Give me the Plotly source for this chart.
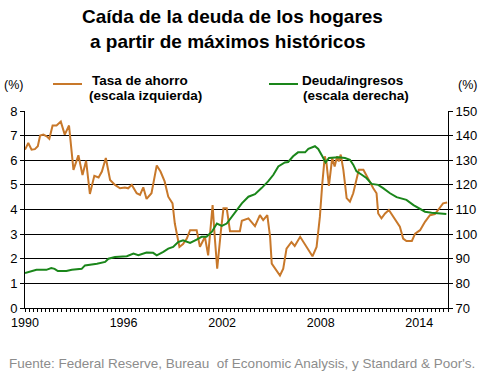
import plotly.graph_objects as go

# Savings rate (left axis, %), x in decimal years
ahorro_x = [1990.0, 1990.2, 1990.4, 1990.6, 1990.78, 1990.92, 1991.12, 1991.32, 1991.48, 1991.68,
            1991.92, 1992.18, 1992.42, 1992.68, 1992.95, 1993.25, 1993.5, 1993.72, 1993.95, 1994.22,
            1994.48, 1994.68, 1994.92, 1995.18, 1995.48, 1995.78, 1996.08, 1996.28, 1996.5, 1996.8,
            1997.0, 1997.2, 1997.4, 1997.7, 1998.02, 1998.25, 1998.5, 1998.72, 1998.98, 1999.12,
            1999.4, 1999.62, 1999.85, 2000.05, 2000.45, 2000.65, 2000.85, 2000.95, 2001.15, 2001.42,
            2001.55, 2001.7, 2001.92, 2002.08, 2002.28, 2002.48, 2003.08, 2003.2, 2003.6, 2004.0,
            2004.3, 2004.5, 2004.75, 2004.92, 2005.02, 2005.25, 2005.52, 2005.72, 2005.92, 2006.22,
            2006.42, 2006.75, 2006.95, 2007.25, 2007.5, 2007.75, 2007.95, 2008.1, 2008.25, 2008.35,
            2008.5, 2008.7, 2008.85, 2009.0, 2009.1, 2009.22, 2009.38, 2009.58, 2009.78, 2009.98,
            2010.2, 2010.32, 2010.6, 2010.8, 2011.0, 2011.2, 2011.4, 2011.5, 2011.7, 2011.92,
            2012.15, 2012.35, 2012.62, 2012.82, 2013.02, 2013.22, 2013.55, 2013.75, 2014.05, 2014.35,
            2014.65, 2014.95, 2015.15, 2015.45, 2015.7]
ahorro_y = [6.43, 6.7, 6.43, 6.45, 6.57, 7.0, 7.04, 6.97, 6.87, 7.41,
            7.41, 7.57, 7.04, 7.41, 5.61, 6.2, 5.4, 5.98, 4.63, 5.37,
            5.3, 5.54, 6.09, 5.2, 5.0, 4.86, 4.89, 4.86, 5.0, 4.66,
            4.59, 4.9, 4.43, 4.66, 5.79, 5.54, 5.14, 4.52, 4.25, 3.43,
            2.48, 2.6, 2.82, 3.16, 3.16, 2.48, 2.75, 2.9, 2.14, 4.18,
            2.89, 1.6, 3.09, 4.05, 4.05, 3.12, 3.12, 3.54, 3.64, 3.32,
            3.77, 3.57, 3.77, 2.89, 1.8, 1.6, 1.32, 1.6, 2.41, 2.68,
            2.52, 2.89, 2.68, 2.34, 2.1, 2.48, 3.7, 5.07, 6.16, 5.9,
            4.96, 6.09, 5.75, 6.16, 5.95, 6.23, 5.61, 4.46, 4.32, 4.66,
            5.27, 5.61, 5.61, 5.34, 5.07, 4.86, 4.66, 3.84, 3.64, 3.84,
            3.98, 3.77, 3.5, 3.3, 2.82, 2.72, 2.72, 3.02, 3.16, 3.5,
            3.77, 3.81, 3.98, 4.25, 4.28]

# Debt / income (right axis, %)
deuda_x = [1990.0, 1990.5, 1990.7, 1991.3, 1991.6, 1991.8, 1992.0, 1992.52, 1992.85, 1993.45,
           1993.65, 1994.38, 1994.58, 1994.88, 1995.08, 1995.48, 1996.2, 1996.6, 1996.9, 1997.4,
           1997.8, 1998.02, 1998.42, 1998.72, 1999.02, 1999.32, 1999.62, 2000.05, 2000.45, 2000.75,
           2001.05, 2001.38, 2001.68, 2001.98, 2002.28, 2002.58, 2002.88, 2003.2, 2003.6, 2004.0,
           2004.4, 2004.8, 2005.12, 2005.42, 2005.82, 2006.02, 2006.32, 2006.62, 2007.05, 2007.25,
           2007.65, 2007.85, 2008.1, 2008.3, 2008.5, 2009.08, 2009.48, 2009.78, 2009.98, 2010.18,
           2010.5, 2010.8, 2011.1, 2011.5, 2011.8, 2012.22, 2012.62, 2012.92, 2013.22, 2013.65,
           2014.05, 2014.35, 2014.75, 2015.15, 2015.65]
deuda_y = [84.2, 85.0, 85.5, 85.5, 86.2, 85.9, 85.0, 85.0, 85.5, 85.9,
           87.3, 88.0, 88.3, 88.7, 90.0, 90.7, 91.0, 92.1, 91.4, 92.5,
           92.4, 91.4, 92.8, 94.1, 94.8, 96.8, 97.5, 96.4, 97.8, 98.9,
           98.9, 101.0, 104.3, 103.3, 104.3, 107.1, 109.8, 112.5, 115.2, 116.2,
           118.7, 121.4, 124.1, 127.5, 129.1, 129.3, 131.6, 133.2, 133.2, 134.6,
           135.7, 134.6, 131.6, 129.1, 130.9, 131.2, 130.9, 130.2, 128.2, 125.5,
           124.1, 122.7, 120.4, 120.0, 118.7, 116.6, 115.0, 114.3, 113.9, 111.8,
           110.1, 109.1, 108.7, 108.4, 108.2]

tick_years = [1990, 1996, 2002, 2008, 2014]
tick_labels = ["1990", "1996", "2002", "2008", "2014"]

FONT = "Arial, 'Liberation Sans', sans-serif"
ORANGE = "#C8782A"
GREEN = "#1A861A"

W, H = 485, 384
L, R, T, B = 25, 37, 111, 76
pw, ph = W - L - R, H - T - B


def px_to_paper(px, py):
    return (px - L) / pw, 1 - (py - T) / ph


fig = go.Figure()
fig.add_trace(go.Scatter(x=ahorro_x, y=ahorro_y, mode="lines",
                         line=dict(color=ORANGE, width=2), name="Tasa de ahorro",
                         showlegend=False))
fig.add_trace(go.Scatter(x=deuda_x, y=deuda_y, mode="lines", yaxis="y2",
                         line=dict(color=GREEN, width=2), name="Deuda/ingresos",
                         showlegend=False))

fig.update_layout(
    width=W, height=H,
    margin=dict(l=L, r=R, t=T, b=B, autoexpand=False),
    paper_bgcolor="white", plot_bgcolor="white",
    font=dict(family=FONT, size=12, color="#000000"),
    xaxis=dict(range=[1990, 2015.75], tickvals=tick_years, ticktext=tick_labels,
               showgrid=False, zeroline=False, showline=True, linecolor="black", linewidth=1,
               ticks="outside", ticklen=3, tickcolor="black", automargin=False,
               minor=dict(dtick=0.25, tick0=1990, ticks="outside", ticklen=3, tickcolor="black"),
               tickfont=dict(size=12.5)),
    yaxis=dict(range=[0, 8], dtick=1, showgrid=True, gridcolor="black", gridwidth=1,
               zeroline=False, showline=True, linecolor="black", linewidth=1, automargin=False,
               ticks="outside", ticklen=4, tickcolor="black", tickfont=dict(size=13)),
    yaxis2=dict(range=[70, 150], dtick=10, overlaying="y", side="right", showgrid=False,
                zeroline=False, showline=True, linecolor="black", linewidth=1, automargin=False,
                ticks="outside", ticklen=4, tickcolor="black", tickfont=dict(size=13)),
)

anns = [
    ("<b>Caída de la deuda de los hogares</b>", 232, 16, 19, "#000000"),
    ("<b>a partir de máximos históricos</b>", 228, 41, 19, "#000000"),
    ("(%)", 13, 85, 12.5, "#000000"),
    ("(%)", 467, 85, 12.5, "#000000"),
    ("<b>Tasa de ahorro</b>", 140, 80, 13.5, "#000000"),
    ("<b>(escala izquierda)</b>", 145, 95, 13.5, "#000000"),
    ("<b>Deuda/ingresos</b>", 352, 80, 13.5, "#000000"),
    ("<b>(escala derecha)</b>", 356, 95, 13.5, "#000000"),
    ("Fuente: Federal Reserve, Bureau  of Economic Analysis, y Standard &amp; Poor's.",
     242, 363, 13.5, "#8C8C8C"),
]
for text, x, y, size, col in anns:
    ax, ay = px_to_paper(x, y)
    fig.add_annotation(text=text, x=ax, y=ay, xref="paper", yref="paper",
                       showarrow=False, xanchor="center", yanchor="middle",
                       font=dict(family=FONT, size=size, color=col))

# legend swatches
for x0, x1, col in [(53, 82, ORANGE), (269, 298, GREEN)]:
    a0, b0 = px_to_paper(x0, 84)
    a1, b1 = px_to_paper(x1, 84)
    fig.add_shape(type="line", xref="paper", yref="paper",
                  x0=a0, x1=a1, y0=b0, y1=b1, line=dict(color=col, width=2))

# remove the default page margin so the 485x384 figure fills the window exactly
fig.write_html("out.html",
               config={"displayModeBar": False, "staticPlot": True},
               post_script="document.body.style.margin='0';document.body.style.overflow='hidden';")
